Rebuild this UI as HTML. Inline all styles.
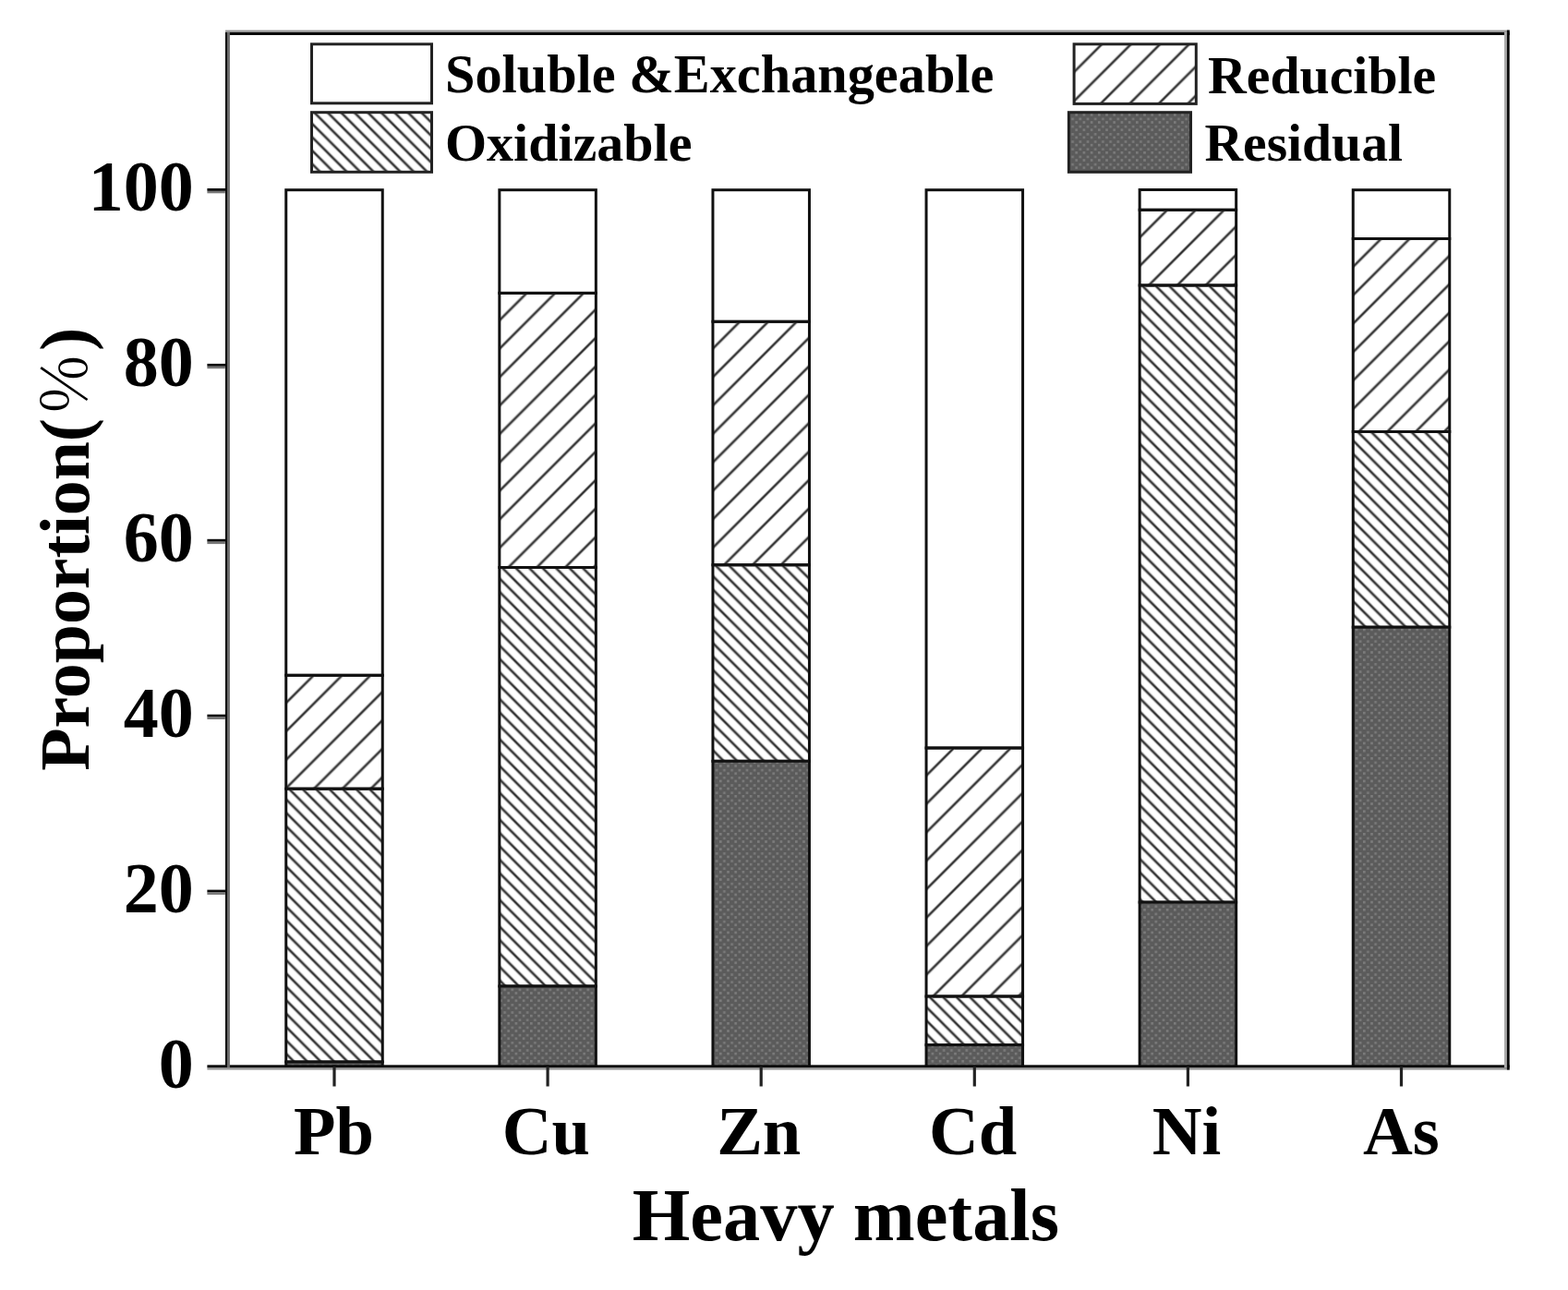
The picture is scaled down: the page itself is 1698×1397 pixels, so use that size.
<!DOCTYPE html>
<html><head><meta charset="utf-8"><title>Heavy metal fractions</title><style>
html,body{margin:0;padding:0;background:#fff;}
svg{display:block;}
text{font-family:"Liberation Serif",serif;font-weight:bold;fill:#000;}
</style></head><body>
<svg width="1698" height="1397" viewBox="0 0 1698 1397">
<defs>
<pattern id="redPb" patternUnits="userSpaceOnUse" width="30.8" height="30.8" patternTransform="translate(339.70,731.30)"><path d="M-5,5 L5,-5 M-2,32.8 L32.8,-2 M25.8,35.8 L35.8,25.8" stroke="#a8a8a8" stroke-width="3.6" fill="none"/><path d="M-5,5 L5,-5 M-2,32.8 L32.8,-2 M25.8,35.8 L35.8,25.8" stroke="#2a2a2a" stroke-width="1.7" fill="none"/></pattern>
<pattern id="oxiPb" patternUnits="userSpaceOnUse" width="14.5" height="14.5" patternTransform="translate(312.90,854.20)"><path d="M-2,-2 L16.5,16.5 M-5,9.5 L5,19.5 M9.5,-5 L19.5,5" stroke="#a8a8a8" stroke-width="3.6" fill="none"/><path d="M-2,-2 L16.5,16.5 M-5,9.5 L5,19.5 M9.5,-5 L19.5,5" stroke="#2a2a2a" stroke-width="1.7" fill="none"/></pattern>
<pattern id="redCu" patternUnits="userSpaceOnUse" width="30.8" height="30.8" patternTransform="translate(570.40,317.40)"><path d="M-5,5 L5,-5 M-2,32.8 L32.8,-2 M25.8,35.8 L35.8,25.8" stroke="#a8a8a8" stroke-width="3.6" fill="none"/><path d="M-5,5 L5,-5 M-2,32.8 L32.8,-2 M25.8,35.8 L35.8,25.8" stroke="#2a2a2a" stroke-width="1.7" fill="none"/></pattern>
<pattern id="oxiCu" patternUnits="userSpaceOnUse" width="14.5" height="14.5" patternTransform="translate(558.00,614.50)"><path d="M-2,-2 L16.5,16.5 M-5,9.5 L5,19.5 M9.5,-5 L19.5,5" stroke="#a8a8a8" stroke-width="3.6" fill="none"/><path d="M-2,-2 L16.5,16.5 M-5,9.5 L5,19.5 M9.5,-5 L19.5,5" stroke="#2a2a2a" stroke-width="1.7" fill="none"/></pattern>
<pattern id="redZn" patternUnits="userSpaceOnUse" width="30.8" height="30.8" patternTransform="translate(801.20,348.30)"><path d="M-5,5 L5,-5 M-2,32.8 L32.8,-2 M25.8,35.8 L35.8,25.8" stroke="#a8a8a8" stroke-width="3.6" fill="none"/><path d="M-5,5 L5,-5 M-2,32.8 L32.8,-2 M25.8,35.8 L35.8,25.8" stroke="#2a2a2a" stroke-width="1.7" fill="none"/></pattern>
<pattern id="oxiZn" patternUnits="userSpaceOnUse" width="14.5" height="14.5" patternTransform="translate(788.90,611.80)"><path d="M-2,-2 L16.5,16.5 M-5,9.5 L5,19.5 M9.5,-5 L19.5,5" stroke="#a8a8a8" stroke-width="3.6" fill="none"/><path d="M-2,-2 L16.5,16.5 M-5,9.5 L5,19.5 M9.5,-5 L19.5,5" stroke="#2a2a2a" stroke-width="1.7" fill="none"/></pattern>
<pattern id="redCd" patternUnits="userSpaceOnUse" width="30.8" height="30.8" patternTransform="translate(1033.00,810.00)"><path d="M-5,5 L5,-5 M-2,32.8 L32.8,-2 M25.8,35.8 L35.8,25.8" stroke="#a8a8a8" stroke-width="3.6" fill="none"/><path d="M-5,5 L5,-5 M-2,32.8 L32.8,-2 M25.8,35.8 L35.8,25.8" stroke="#2a2a2a" stroke-width="1.7" fill="none"/></pattern>
<pattern id="oxiCd" patternUnits="userSpaceOnUse" width="14.5" height="14.5" patternTransform="translate(1020.60,1079.00)"><path d="M-2,-2 L16.5,16.5 M-5,9.5 L5,19.5 M9.5,-5 L19.5,5" stroke="#a8a8a8" stroke-width="3.6" fill="none"/><path d="M-2,-2 L16.5,16.5 M-5,9.5 L5,19.5 M9.5,-5 L19.5,5" stroke="#2a2a2a" stroke-width="1.7" fill="none"/></pattern>
<pattern id="redNi" patternUnits="userSpaceOnUse" width="30.8" height="30.8" patternTransform="translate(1264.10,227.30)"><path d="M-5,5 L5,-5 M-2,32.8 L32.8,-2 M25.8,35.8 L35.8,25.8" stroke="#a8a8a8" stroke-width="3.6" fill="none"/><path d="M-5,5 L5,-5 M-2,32.8 L32.8,-2 M25.8,35.8 L35.8,25.8" stroke="#2a2a2a" stroke-width="1.7" fill="none"/></pattern>
<pattern id="oxiNi" patternUnits="userSpaceOnUse" width="14.5" height="14.5" patternTransform="translate(1251.10,309.00)"><path d="M-2,-2 L16.5,16.5 M-5,9.5 L5,19.5 M9.5,-5 L19.5,5" stroke="#a8a8a8" stroke-width="3.6" fill="none"/><path d="M-2,-2 L16.5,16.5 M-5,9.5 L5,19.5 M9.5,-5 L19.5,5" stroke="#2a2a2a" stroke-width="1.7" fill="none"/></pattern>
<pattern id="redAs" patternUnits="userSpaceOnUse" width="30.8" height="30.8" patternTransform="translate(1495.70,258.50)"><path d="M-5,5 L5,-5 M-2,32.8 L32.8,-2 M25.8,35.8 L35.8,25.8" stroke="#a8a8a8" stroke-width="3.6" fill="none"/><path d="M-5,5 L5,-5 M-2,32.8 L32.8,-2 M25.8,35.8 L35.8,25.8" stroke="#2a2a2a" stroke-width="1.7" fill="none"/></pattern>
<pattern id="oxiAs" patternUnits="userSpaceOnUse" width="14.5" height="14.5" patternTransform="translate(1484.70,467.50)"><path d="M-2,-2 L16.5,16.5 M-5,9.5 L5,19.5 M9.5,-5 L19.5,5" stroke="#a8a8a8" stroke-width="3.6" fill="none"/><path d="M-2,-2 L16.5,16.5 M-5,9.5 L5,19.5 M9.5,-5 L19.5,5" stroke="#2a2a2a" stroke-width="1.7" fill="none"/></pattern>
<pattern id="redL" patternUnits="userSpaceOnUse" width="31.5" height="31.5" patternTransform="translate(1193.10,48.00)"><path d="M-5,5 L5,-5 M-2,33.5 L33.5,-2 M26.5,36.5 L36.5,26.5" stroke="#a8a8a8" stroke-width="3.6" fill="none"/><path d="M-5,5 L5,-5 M-2,33.5 L33.5,-2 M26.5,36.5 L36.5,26.5" stroke="#2a2a2a" stroke-width="1.7" fill="none"/></pattern>
<pattern id="oxiL" patternUnits="userSpaceOnUse" width="14.5" height="14.5" patternTransform="translate(355.50,122.50)"><path d="M-2,-2 L16.5,16.5 M-5,9.5 L5,19.5 M9.5,-5 L19.5,5" stroke="#a8a8a8" stroke-width="3.6" fill="none"/><path d="M-2,-2 L16.5,16.5 M-5,9.5 L5,19.5 M9.5,-5 L19.5,5" stroke="#2a2a2a" stroke-width="1.7" fill="none"/></pattern>
<pattern id="res" patternUnits="userSpaceOnUse" width="8.2" height="8.2">
<rect width="8.2" height="8.2" fill="#5b5b5b"/>
<rect x="0" y="0" width="2.6" height="2.6" fill="#7c7c7c"/>
<rect x="4.1" y="4.6" width="2.6" height="2.6" fill="#7a7a7a"/>
</pattern>
</defs>
<rect width="1698" height="1397" fill="#fff"/>
<g stroke="#111" stroke-width="3.0">
<rect x="309.75" y="205.70" width="104.50" height="525.60" fill="#fff"/>
<rect x="309.75" y="731.30" width="104.50" height="122.90" fill="url(#redPb)"/>
<rect x="309.75" y="854.20" width="104.50" height="295.80" fill="url(#oxiPb)"/>
<rect x="309.75" y="1150.00" width="104.50" height="5.30" fill="url(#res)"/>
</g>
<g stroke="#111" stroke-width="3.0">
<rect x="540.85" y="205.70" width="104.50" height="111.70" fill="#fff"/>
<rect x="540.85" y="317.40" width="104.50" height="297.10" fill="url(#redCu)"/>
<rect x="540.85" y="614.50" width="104.50" height="453.50" fill="url(#oxiCu)"/>
<rect x="540.85" y="1068.00" width="104.50" height="87.30" fill="url(#res)"/>
</g>
<g stroke="#111" stroke-width="3.0">
<rect x="771.95" y="205.70" width="104.50" height="142.60" fill="#fff"/>
<rect x="771.95" y="348.30" width="104.50" height="263.50" fill="url(#redZn)"/>
<rect x="771.95" y="611.80" width="104.50" height="212.50" fill="url(#oxiZn)"/>
<rect x="771.95" y="824.30" width="104.50" height="331.00" fill="url(#res)"/>
</g>
<g stroke="#111" stroke-width="3.0">
<rect x="1003.05" y="205.70" width="104.50" height="604.30" fill="#fff"/>
<rect x="1003.05" y="810.00" width="104.50" height="269.00" fill="url(#redCd)"/>
<rect x="1003.05" y="1079.00" width="104.50" height="52.60" fill="url(#oxiCd)"/>
<rect x="1003.05" y="1131.60" width="104.50" height="23.70" fill="url(#res)"/>
</g>
<g stroke="#111" stroke-width="3.0">
<rect x="1234.15" y="205.50" width="104.50" height="21.80" fill="#fff"/>
<rect x="1234.15" y="227.30" width="104.50" height="81.70" fill="url(#redNi)"/>
<rect x="1234.15" y="309.00" width="104.50" height="668.10" fill="url(#oxiNi)"/>
<rect x="1234.15" y="977.10" width="104.50" height="178.20" fill="url(#res)"/>
</g>
<g stroke="#111" stroke-width="3.0">
<rect x="1465.25" y="205.70" width="104.50" height="52.80" fill="#fff"/>
<rect x="1465.25" y="258.50" width="104.50" height="209.00" fill="url(#redAs)"/>
<rect x="1465.25" y="467.50" width="104.50" height="211.70" fill="url(#oxiAs)"/>
<rect x="1465.25" y="679.20" width="104.50" height="476.10" fill="url(#res)"/>
</g>
<g fill="#111">
<rect x="244" y="32.6" width="1390.7" height="2.6" fill="#9a9a9a"/>
<rect x="244" y="35" width="1390.7" height="3" fill="#0a0a0a"/>
<rect x="224.4" y="1156" width="1410.3" height="2.6" fill="#999"/>
<rect x="224.4" y="1153.3" width="1410.3" height="2.8" fill="#0a0a0a"/>
<rect x="245.9" y="35" width="3" height="1121" fill="#6a6a6a"/>
<rect x="243.9" y="35" width="2.1" height="1121" fill="#111"/>
<rect x="1629" y="35" width="3" height="1121" fill="#aaa"/>
<rect x="1631.9" y="32.6" width="2.8" height="1126" fill="#0a0a0a"/>
<rect x="224.4" y="963.60" width="21" height="2.9" fill="#0a0a0a"/>
<rect x="224.4" y="966.50" width="19.5" height="2.4" fill="#777"/>
<rect x="224.4" y="773.70" width="21" height="2.9" fill="#0a0a0a"/>
<rect x="224.4" y="776.60" width="19.5" height="2.4" fill="#777"/>
<rect x="224.4" y="583.80" width="21" height="2.9" fill="#0a0a0a"/>
<rect x="224.4" y="586.70" width="19.5" height="2.4" fill="#777"/>
<rect x="224.4" y="393.90" width="21" height="2.9" fill="#0a0a0a"/>
<rect x="224.4" y="396.80" width="19.5" height="2.4" fill="#777"/>
<rect x="224.4" y="204.00" width="21" height="2.9" fill="#0a0a0a"/>
<rect x="224.4" y="206.90" width="19.5" height="2.4" fill="#777"/>
<rect x="360.40" y="1155" width="3.2" height="21.5" fill="#222"/>
<rect x="591.50" y="1155" width="3.2" height="21.5" fill="#222"/>
<rect x="822.60" y="1155" width="3.2" height="21.5" fill="#222"/>
<rect x="1053.70" y="1155" width="3.2" height="21.5" fill="#222"/>
<rect x="1284.80" y="1155" width="3.2" height="21.5" fill="#222"/>
<rect x="1515.90" y="1155" width="3.2" height="21.5" fill="#222"/>
</g>
<text transform="translate(209.8,1177.60) scale(1,1.04)" font-size="76" text-anchor="end">0</text>
<text transform="translate(209.8,987.70) scale(1,1.04)" font-size="76" text-anchor="end">20</text>
<text transform="translate(209.8,797.80) scale(1,1.04)" font-size="76" text-anchor="end">40</text>
<text transform="translate(209.8,607.90) scale(1,1.04)" font-size="76" text-anchor="end">60</text>
<text transform="translate(209.8,418.00) scale(1,1.04)" font-size="76" text-anchor="end">80</text>
<text transform="translate(209.8,228.10) scale(1,1.04)" font-size="76" text-anchor="end">100</text>
<text x="361.50" y="1250.3" font-size="74.5" text-anchor="middle">Pb</text>
<text x="591.30" y="1250.3" font-size="74.5" text-anchor="middle">Cu</text>
<text x="821.70" y="1250.3" font-size="74.5" text-anchor="middle">Zn</text>
<text x="1053.50" y="1250.3" font-size="74.5" text-anchor="middle">Cd</text>
<text x="1285.00" y="1250.3" font-size="74.5" text-anchor="middle">Ni</text>
<text x="1517.30" y="1250.3" font-size="74.5" text-anchor="middle">As</text>
<text x="915.9" y="1343" font-size="80.4" text-anchor="middle">Heavy metals</text>
<text transform="translate(96,834.7) rotate(-90)" font-size="75.8">Proportion(<tspan dx="2.5" dy="-2" font-family="'Liberation Serif','Noto Serif CJK SC',serif" font-weight="normal" font-size="69">％</tspan><tspan dx="1.5" dy="2">)</tspan></text>
<g stroke="#222" stroke-width="3">
<rect x="337.5" y="47.8" width="130" height="64" fill="#fff"/>
<rect x="337.5" y="121.7" width="130" height="64.6" fill="url(#oxiL)"/>
<rect x="1163.1" y="47.8" width="132.2" height="64.6" fill="url(#redL)"/>
<rect x="1157.4" y="121.7" width="132.1" height="64.6" fill="url(#res)"/>
</g>
<text x="482" y="100.3" font-size="58.3">Soluble &amp;Exchangeable</text>
<text x="482" y="173.8" font-size="58">Oxidizable</text>
<text x="1308" y="100.7" font-size="57.8">Reducible</text>
<text x="1304.5" y="174.3" font-size="57.6">Residual</text>
</svg>
</body></html>
